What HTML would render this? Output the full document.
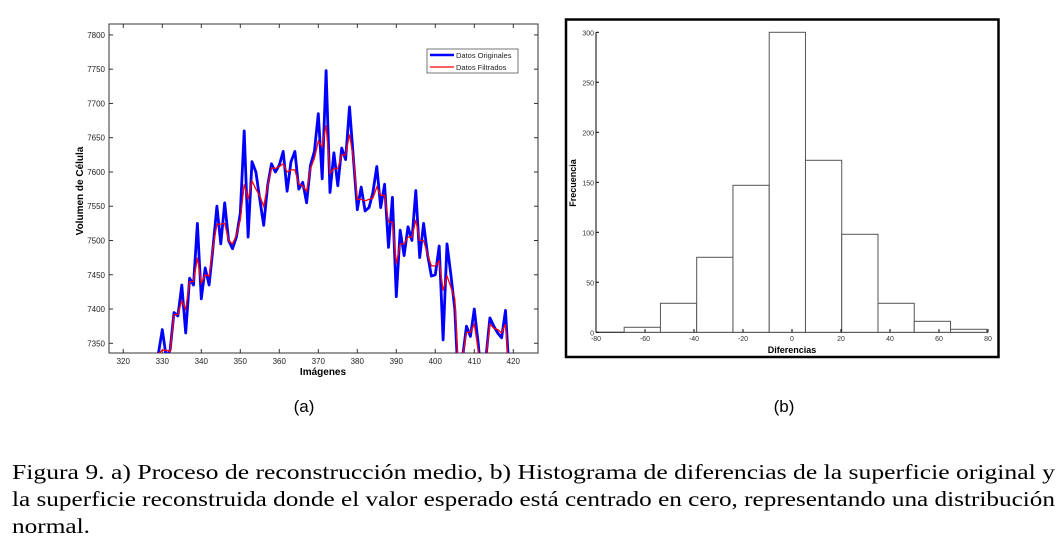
<!DOCTYPE html>
<html><head><meta charset="utf-8"><style>
html,body{margin:0;padding:0;background:#fff;width:1063px;height:550px;overflow:hidden}
svg{display:block}
</style></head><body>
<svg id="fig" width="1063" height="550" xmlns="http://www.w3.org/2000/svg">
<defs><clipPath id="clipA"><rect x="109" y="24" width="429" height="329"/></clipPath></defs>
<g id="chartA"></g>
<g id="chartB"></g>
<text x="304" y="412" font-family="Liberation Sans, sans-serif" font-size="17" text-anchor="middle">(a)</text>
<text x="784" y="412" font-family="Liberation Sans, sans-serif" font-size="17" text-anchor="middle">(b)</text>
<g font-family="Liberation Serif, serif" font-size="21">
<text x="12" y="479" textLength="1043" lengthAdjust="spacingAndGlyphs">Figura 9. a) Proceso de reconstrucción medio, b) Histograma de diferencias de la superficie original y</text>
<text x="12" y="506" textLength="1043" lengthAdjust="spacingAndGlyphs">la superficie reconstruida donde el valor esperado está centrado en cero, representando una distribución</text>
<text x="12" y="533" textLength="78" lengthAdjust="spacingAndGlyphs">normal.</text>
</g>
</svg>
<script>
const xVals=[329,330,331,332,333,334,335,336,337,338,339,340,341,342,343,344,345,346,347,348,349,350,351,352,353,354,355,356,357,358,359,360,361,362,363,364,365,366,367,368,369,370,371,372,373,374,375,376,377,378,379,380,381,382,383,384,385,386,387,388,389,390,391,392,393,394,395,396,397,398,399,400,401,402,403,404,405,406,407,408,409,410,411,412,413,414,415,416,417,418,419];
const origVals=[7335,7370,7330,7340,7395,7390,7435,7365,7445,7435,7525,7415,7460,7435,7490,7550,7495,7555,7500,7488,7505,7540,7660,7505,7615,7600,7560,7522,7580,7612,7600,7610,7630,7572,7615,7630,7575,7585,7555,7610,7630,7685,7590,7748,7570,7628,7580,7635,7618,7695,7620,7545,7578,7543,7548,7570,7608,7548,7582,7490,7563,7418,7515,7478,7520,7500,7573,7475,7525,7480,7448,7450,7492,7355,7495,7450,7400,7280,7330,7375,7360,7400,7350,7290,7330,7387,7375,7365,7358,7398,7300];
const filtVals=[7335,7340,7340,7338,7392,7392,7412,7400,7440,7440,7475,7438,7450,7448,7490,7524,7524,7525,7500,7495,7508,7530,7582,7560,7587,7575,7565,7550,7580,7606,7605,7608,7612,7600,7603,7603,7582,7580,7572,7605,7620,7645,7637,7668,7598,7605,7605,7625,7625,7655,7620,7560,7560,7558,7560,7562,7578,7566,7566,7527,7527,7466,7495,7495,7505,7505,7530,7500,7500,7480,7463,7463,7470,7427,7448,7432,7415,7300,7330,7366,7366,7378,7340,7300,7330,7378,7372,7370,7365,7378,7300];
const xTicksA=[320,330,340,350,360,370,380,390,400,410,420];
const yTicksA=[7350,7400,7450,7500,7550,7600,7650,7700,7750,7800];
const binEdges=[-68.5,-53.7,-38.9,-24.1,-9.3,5.5,20.3,35.1,49.9,64.7,79.5];
const binCounts=[5,29,75,147,300,172,98,29,11,3];
const xTicksB=[-80,-60,-40,-20,0,20,40,60,80];
const yTicksB=[0,50,100,150,200,250,300];
const NS='http://www.w3.org/2000/svg';
function mk(parent,tag,attrs){const e=document.createElementNS(NS,tag);for(const k in attrs)e.setAttribute(k,attrs[k]);parent.appendChild(e);return e;}
// Chart A
const A=document.getElementById('chartA');
const axA=v=>123.3+(v-320)*3.9;
const ayA=v=>343.3-(v-7350)*0.6853;
let r=mk(A,'rect',{x:109,y:24,width:429,height:329,fill:'#fff',stroke:'#333','stroke-width':1});


xTicksA.forEach(t=>{const x=axA(t);
 mk(A,'line',{x1:x,y1:353,x2:x,y2:349,stroke:'#333'});mk(A,'line',{x1:x,y1:24,x2:x,y2:28,stroke:'#333'});
 const tx=mk(A,'text',{x:x,y:364,'font-family':'Liberation Sans, sans-serif','font-size':8,'text-anchor':'middle',fill:'#222'});tx.textContent=t;
 
 });
yTicksA.forEach(t=>{const y=ayA(t);
 mk(A,'line',{x1:109,y1:y,x2:113,y2:y,stroke:'#333'});mk(A,'line',{x1:538,y1:y,x2:534,y2:y,stroke:'#333'});
 const tx=mk(A,'text',{x:105,y:y+3,'font-family':'Liberation Sans, sans-serif','font-size':8,'text-anchor':'end',fill:'#222'});tx.textContent=t;
 
 });
const ptsO=xVals.map((x,i)=>axA(x).toFixed(1)+','+ayA(origVals[i]).toFixed(1)).join(' ');
const ptsF=xVals.map((x,i)=>axA(x).toFixed(1)+','+ayA(filtVals[i]).toFixed(1)).join(' ');
let l1=mk(A,'polyline',{points:ptsO,fill:'none',stroke:'#0000ff','stroke-width':2.8,'clip-path':'url(#clipA)','stroke-linejoin':'round'});


let l2=mk(A,'polyline',{points:ptsF,fill:'none',stroke:'#ff0000','stroke-width':1.3,'clip-path':'url(#clipA)'});


let lg=mk(A,'g',{});


mk(lg,'rect',{x:427,y:49,width:91,height:24,fill:'#fff',stroke:'#555','stroke-width':0.8});
mk(lg,'line',{x1:430,y1:55,x2:454,y2:55,stroke:'#0000ff','stroke-width':2.5});
mk(lg,'line',{x1:430,y1:67,x2:454,y2:67,stroke:'#ff0000','stroke-width':1.3});
let t1=mk(lg,'text',{x:456,y:58,'font-family':'Liberation Sans, sans-serif','font-size':7.5,fill:'#222'});t1.textContent='Datos Originales';
let t2=mk(lg,'text',{x:456,y:70,'font-family':'Liberation Sans, sans-serif','font-size':7.5,fill:'#222'});t2.textContent='Datos Filtrados';
let xt=mk(A,'text',{x:323,y:375,'font-family':'Liberation Sans, sans-serif','font-size':10,'font-weight':'bold','text-anchor':'middle'});xt.textContent='Imágenes';


let yt=mk(A,'text',{x:0,y:0,'font-family':'Liberation Sans, sans-serif','font-size':10,'font-weight':'bold','text-anchor':'middle',transform:'translate(83,191) rotate(-90)'});yt.textContent='Volumen de Célula';


// Chart B
const B=document.getElementById('chartB');
const axB=v=>792+v*2.45;
const ayB=v=>332.3-v*1.0;
let fr=mk(B,'rect',{x:566,y:19.5,width:432.5,height:337.5,fill:'#fff',stroke:'#000','stroke-width':2.5});


mk(B,'line',{x1:596,y1:332.3,x2:988,y2:332.3,stroke:'#000','stroke-width':1});
mk(B,'line',{x1:596,y1:32.3,x2:596,y2:332.3,stroke:'#000','stroke-width':1});
binCounts.forEach((c,i)=>{const x0=axB(binEdges[i]),x1=axB(binEdges[i+1]);
 const b=mk(B,'rect',{x:x0,y:ayB(c),width:x1-x0,height:332.3-ayB(c),fill:'#fff',stroke:'#555','stroke-width':1});
 
 });
xTicksB.forEach(t=>{const x=axB(t);
 mk(B,'line',{x1:x,y1:332.3,x2:x,y2:329,stroke:'#000'});
 const tx=mk(B,'text',{x:x,y:341,'font-family':'Liberation Sans, sans-serif','font-size':7,'text-anchor':'middle',fill:'#333'});tx.textContent=t;
 
 });
yTicksB.forEach(t=>{const y=ayB(t);
 mk(B,'line',{x1:596,y1:y,x2:599,y2:y,stroke:'#000'});
 const tx=mk(B,'text',{x:594,y:y+3,'font-family':'Liberation Sans, sans-serif','font-size':7,'text-anchor':'end',fill:'#333'});tx.textContent=t;
 
 });
let xb=mk(B,'text',{x:792,y:353,'font-family':'Liberation Sans, sans-serif','font-size':9,'font-weight':'bold','text-anchor':'middle'});xb.textContent='Diferencias';


let yb=mk(B,'text',{x:0,y:0,'font-family':'Liberation Sans, sans-serif','font-size':9,'font-weight':'bold','text-anchor':'middle',transform:'translate(576,183) rotate(-90)'});yb.textContent='Frecuencia';


</script>
</body></html>
